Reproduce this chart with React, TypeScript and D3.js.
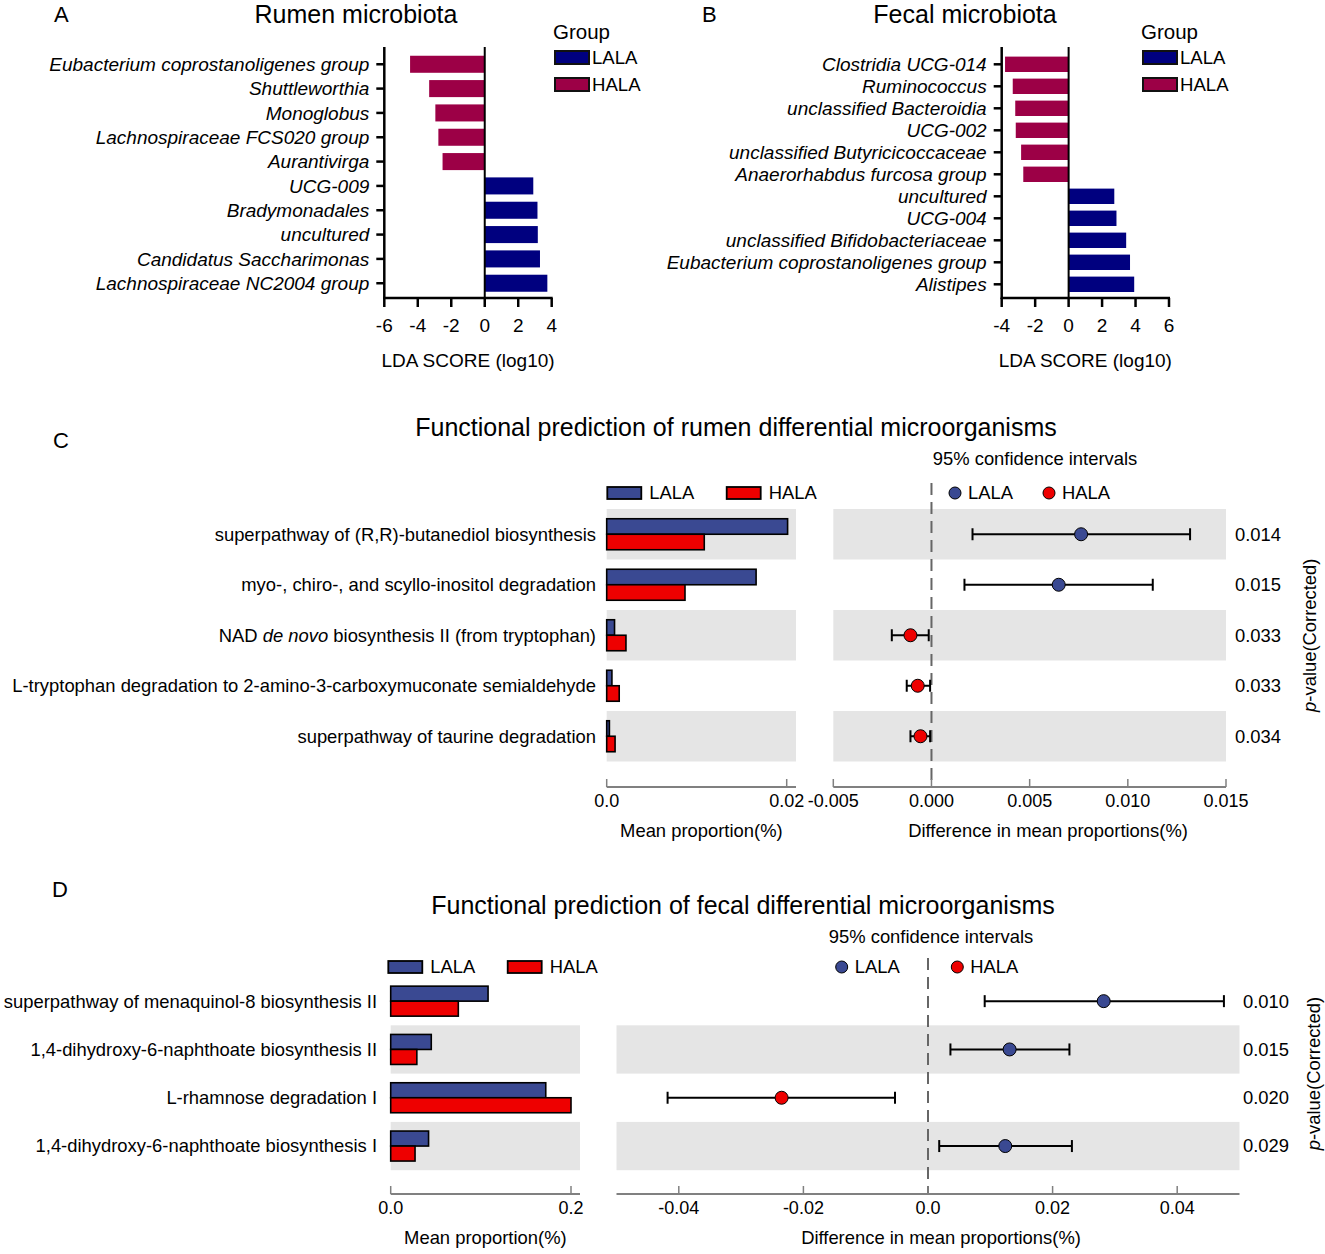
import React from "react";
import * as d3 from "d3";

// ---------- Data ----------
const rumenTaxa = [
  "Eubacterium coprostanoligenes group",
  "Shuttleworthia",
  "Monoglobus",
  "Lachnospiraceae FCS020 group",
  "Aurantivirga",
  "UCG-009",
  "Bradymonadales",
  "uncultured",
  "Candidatus Saccharimonas",
  "Lachnospiraceae NC2004 group",
];
const rumenLDA = [-4.46, -3.32, -2.95, -2.77, -2.52, 2.9, 3.15, 3.17, 3.3, 3.74];

const fecalTaxa = [
  "Clostridia UCG-014",
  "Ruminococcus",
  "unclassified Bacteroidia",
  "UCG-002",
  "unclassified Butyricicoccaceae",
  "Anaerorhabdus furcosa group",
  "uncultured",
  "UCG-004",
  "unclassified Bifidobacteriaceae",
  "Eubacterium coprostanoligenes group",
  "Alistipes",
];
const fecalLDA = [-3.8, -3.34, -3.19, -3.16, -2.84, -2.71, 2.73, 2.86, 3.44, 3.67, 3.92];

const ldaTicksA = [-6, -4, -2, 0, 2, 4];
const ldaTicksB = [-4, -2, 0, 2, 4, 6];

const rumenPathways = [
  "superpathway of (R,R)-butanediol biosynthesis",
  "myo-, chiro-, and scyllo-inositol degradation",
  "NAD de novo biosynthesis II (from tryptophan)",
  "L-tryptophan degradation to 2-amino-3-carboxymuconate semialdehyde",
  "superpathway of taurine degradation",
];
const rumenMeanLALA = [0.0201, 0.0166, 0.00087, 0.00058, 0.0003];
const rumenMeanHALA = [0.01084, 0.0087, 0.00214, 0.00139, 0.00093];
const rumenDiff = [0.00762, 0.00648, -0.00107, -0.0007, -0.00056];
const rumenCILow = [0.00209, 0.00168, -0.00202, -0.00126, -0.00107];
const rumenCIHigh = [0.01317, 0.01127, -0.00014, -0.00007, -0.00007];
const rumenP = ["0.014", "0.015", "0.033", "0.033", "0.034"];
const rumenMeanTicks = [0, 0.02];
const rumenMeanTickLabels = ["0.0", "0.02"];
const rumenDiffTicks = [-0.005, 0, 0.005, 0.01, 0.015];
const rumenDiffTickLabels = ["-0.005", "0.000", "0.005", "0.010", "0.015"];

const fecalPathways = [
  "superpathway of menaquinol-8 biosynthesis II",
  "1,4-dihydroxy-6-naphthoate biosynthesis II",
  "L-rhamnose degradation I",
  "1,4-dihydroxy-6-naphthoate biosynthesis I",
];
const fecalMeanLALA = [0.108, 0.045, 0.172, 0.042];
const fecalMeanHALA = [0.075, 0.029, 0.2, 0.027];
const fecalDiff = [0.0282, 0.0131, -0.0235, 0.0124];
const fecalCILow = [0.0091, 0.0036, -0.0418, 0.0018];
const fecalCIHigh = [0.0475, 0.0227, -0.0053, 0.0231];
const fecalP = ["0.010", "0.015", "0.020", "0.029"];
const fecalMeanTicks = [0, 0.2];
const fecalMeanTickLabels = ["0.0", "0.2"];
const fecalDiffTicks = [-0.04, -0.02, 0, 0.02, 0.04];
const fecalDiffTickLabels = ["-0.04", "-0.02", "0.0", "0.02", "0.04"];

const groups = ["LALA", "HALA"];

// ---------- Styles ----------
const FONT = "Arial, 'Liberation Sans', Helvetica, sans-serif";
const LDA_LALA = "#00007f";
const LDA_HALA = "#9c0046";
const EB_LALA = "#3a4992";
const EB_HALA = "#ee0000";
const BAND = "#e5e5e5";
const AXIS_GRAY = "#808080";
const FS = 18.4;

type LdaProps = {
  taxa: string[];
  values: number[];
  ticks: number[];
  xRange: [number, number];
  rowStart: number;
  rowEnd: number;
  axisTop: number;
  axisY: number;
  title: string;
  titleX: number;
  letter: string;
  letterX: number;
  legendX: number;
};

function LdaPanel(p: LdaProps) {
  const x = d3.scaleLinear().domain([p.ticks[0], p.ticks[p.ticks.length - 1]]).range(p.xRange);
  const y = d3.scaleBand<string>().domain(p.taxa).range([p.rowStart, p.rowEnd]).paddingInner(0.3).paddingOuter(0.15);
  const x0 = x(0);
  const left = p.xRange[0];
  return (
    <g fontFamily={FONT}>
      <text x={p.letterX} y={22} fontSize={22}>{p.letter}</text>
      <text x={p.titleX} y={23} fontSize={25} textAnchor="middle">{p.title}</text>
      {p.taxa.map((t, i) => {
        const v = p.values[i];
        const yy = y(t)!;
        return (
          <rect
            key={t}
            x={Math.min(x0, x(v))}
            y={yy}
            width={Math.abs(x(v) - x0)}
            height={y.bandwidth()}
            fill={v < 0 ? LDA_HALA : LDA_LALA}
          />
        );
      })}
      {/* axes */}
      <line x1={left} x2={left} y1={p.axisTop} y2={p.axisY + 1} stroke="#000" strokeWidth={2.5} />
      <line x1={left - 1} x2={p.xRange[1] + 1} y1={p.axisY} y2={p.axisY} stroke="#000" strokeWidth={2.5} />
      <line x1={x0} x2={x0} y1={p.axisTop} y2={p.axisY} stroke="#000" strokeWidth={2} />
      {p.taxa.map((t) => {
        const cy = y(t)! + y.bandwidth() / 2;
        return (
          <g key={"l" + t}>
            <line x1={left - 8} x2={left} y1={cy} y2={cy} stroke="#000" strokeWidth={2.5} />
            <text x={left - 15} y={cy} dy="0.35em" fontSize={19} fontStyle="italic" textAnchor="end">{t}</text>
          </g>
        );
      })}
      {p.ticks.map((t) => (
        <g key={"t" + t}>
          <line x1={x(t)} x2={x(t)} y1={p.axisY} y2={p.axisY + 9} stroke="#000" strokeWidth={2.5} />
          <text x={x(t)} y={p.axisY + 34} fontSize={19} textAnchor="middle">{t}</text>
        </g>
      ))}
      <text x={(p.xRange[0] + p.xRange[1]) / 2} y={p.axisY + 69} fontSize={19} textAnchor="middle">LDA SCORE (log10)</text>
      {/* legend */}
      <text x={p.legendX - 2} y={39} fontSize={20.5}>Group</text>
      {groups.map((g, i) => (
        <g key={g}>
          <rect x={p.legendX} y={51 + i * 27} width={34} height={13} fill={g === "LALA" ? LDA_LALA : LDA_HALA} stroke="#111" strokeWidth={2} />
          <text x={p.legendX + 37} y={57.5 + i * 27} dy="0.35em" fontSize={18.6}>{g}</text>
        </g>
      ))}
    </g>
  );
}

type EbProps = {
  pathways: string[];
  meanLALA: number[];
  meanHALA: number[];
  diff: number[];
  ciLow: number[];
  ciHigh: number[];
  pvals: string[];
  meanDomain: [number, number];
  meanRange: [number, number];
  meanBandEnd: number;
  meanTicks: number[];
  meanTickLabels: string[];
  diffDomain: [number, number];
  diffRange: [number, number];
  diffTicks: number[];
  diffTickLabels: string[];
  rowTop: number;
  rowStep: number;
  bandOdd: boolean;
  axisY: number;
  barH: number;
  labelX: number;
  pX: number;
  pLabelX: number;
  title: string;
  titleX: number;
  titleY: number;
  letter: string;
  letterX: number;
  letterY: number;
  legendY: number;
  barLegendX: [number, number];
  dotLegendX: [number, number];
  ciTitleX: number;
  ciTitleY: number;
  dashTop: number;
  diffTitleX: number;
};

function EbPanel(p: EbProps) {
  const n = p.pathways.length;
  const xm = d3.scaleLinear().domain(p.meanDomain).range(p.meanRange);
  const xd = d3.scaleLinear().domain(p.diffDomain).range(p.diffRange);
  const y = d3
    .scaleBand<string>()
    .domain(p.pathways)
    .range([p.rowTop, p.rowTop + p.rowStep * n]);
  const m0 = xm(0);
  const d0 = xd(0);
  return (
    <g fontFamily={FONT}>
      <text x={p.letterX} y={p.letterY} fontSize={22}>{p.letter}</text>
      <text x={p.titleX} y={p.titleY} fontSize={25} textAnchor="middle">{p.title}</text>
      {/* bands */}
      {p.pathways.map((t, i) =>
        (i % 2 === 0) === p.bandOdd ? (
          <g key={"b" + i}>
            <rect x={m0} y={y(t)!} width={p.meanBandEnd - m0} height={y.bandwidth()} fill={BAND} />
            <rect x={p.diffRange[0]} y={y(t)!} width={p.diffRange[1] - p.diffRange[0]} height={y.bandwidth()} fill={BAND} />
          </g>
        ) : null
      )}
      {/* dashed zero line */}
      <line x1={d0} x2={d0} y1={p.dashTop} y2={p.axisY} stroke="#666" strokeWidth={2} strokeDasharray="12,7" />
      {/* bars and labels */}
      {p.pathways.map((t, i) => {
        const cy = y(t)! + y.bandwidth() / 2;
        const label =
          t.indexOf("de novo") >= 0 ? (
            <>
              NAD <tspan fontStyle="italic">de novo</tspan> biosynthesis II (from tryptophan)
            </>
          ) : (
            t
          );
        return (
          <g key={"r" + i}>
            <text x={p.labelX} y={cy} dy="0.35em" fontSize={FS} textAnchor="end">{label}</text>
            <rect x={m0} y={cy - p.barH} width={xm(p.meanLALA[i]) - m0} height={p.barH} fill={EB_LALA} stroke="#000" strokeWidth={1.6} />
            <rect x={m0} y={cy} width={xm(p.meanHALA[i]) - m0} height={p.barH} fill={EB_HALA} stroke="#000" strokeWidth={1.6} />
            <line x1={xd(p.ciLow[i])} x2={xd(p.ciHigh[i])} y1={cy} y2={cy} stroke="#000" strokeWidth={2} />
            <line x1={xd(p.ciLow[i])} x2={xd(p.ciLow[i])} y1={cy - 6} y2={cy + 6} stroke="#000" strokeWidth={2} />
            <line x1={xd(p.ciHigh[i])} x2={xd(p.ciHigh[i])} y1={cy - 6} y2={cy + 6} stroke="#000" strokeWidth={2} />
            <circle cx={xd(p.diff[i])} cy={cy} r={6.5} fill={p.diff[i] >= 0 ? EB_LALA : EB_HALA} stroke="#000" strokeWidth={1} />
            <text x={p.pX} y={cy} dy="0.35em" fontSize={FS}>{p.pvals[i]}</text>
          </g>
        );
      })}
      {/* axes */}
      <line x1={m0} x2={p.meanBandEnd} y1={p.axisY} y2={p.axisY} stroke={AXIS_GRAY} strokeWidth={2} />
      {p.meanTicks.map((t, i) => (
        <g key={"mt" + i}>
          <line x1={xm(t)} x2={xm(t)} y1={p.axisY} y2={p.axisY - 8} stroke={AXIS_GRAY} strokeWidth={1.5} />
          <text x={xm(t)} y={p.axisY + 20} fontSize={18} textAnchor="middle">{p.meanTickLabels[i]}</text>
        </g>
      ))}
      <text x={(m0 + p.meanBandEnd) / 2} y={p.axisY + 50} fontSize={FS} textAnchor="middle">Mean proportion(%)</text>
      <line x1={p.diffRange[0]} x2={p.diffRange[1]} y1={p.axisY} y2={p.axisY} stroke={AXIS_GRAY} strokeWidth={2} />
      {p.diffTicks.map((t, i) => (
        <g key={"dt" + i}>
          <line x1={xd(t)} x2={xd(t)} y1={p.axisY} y2={p.axisY - 8} stroke={AXIS_GRAY} strokeWidth={1.5} />
          <text x={xd(t)} y={p.axisY + 20} fontSize={18} textAnchor="middle">{p.diffTickLabels[i]}</text>
        </g>
      ))}
      <text x={p.diffTitleX} y={p.axisY + 50} fontSize={FS} textAnchor="middle">Difference in mean proportions(%)</text>
      {/* p-value title */}
      <text
        transform={`translate(${p.pLabelX},${p.rowTop + (p.rowStep * n) / 2}) rotate(-90)`}
        textAnchor="middle"
        fontSize={FS}
      >
        <tspan fontStyle="italic">p</tspan>-value(Corrected)
      </text>
      {/* legends */}
      <text x={p.ciTitleX} y={p.ciTitleY} fontSize={FS} textAnchor="middle">95% confidence intervals</text>
      {groups.map((g, i) => (
        <g key={"lg" + g}>
          <rect x={p.barLegendX[i]} y={p.legendY - 6} width={34} height={12} fill={g === "LALA" ? EB_LALA : EB_HALA} stroke="#000" strokeWidth={1.8} />
          <text x={p.barLegendX[i] + 42} y={p.legendY} dy="0.35em" fontSize={FS}>{g}</text>
          <circle cx={p.dotLegendX[i]} cy={p.legendY} r={6} fill={g === "LALA" ? EB_LALA : EB_HALA} stroke="#000" strokeWidth={1} />
          <text x={p.dotLegendX[i] + 13} y={p.legendY} dy="0.35em" fontSize={FS}>{g}</text>
        </g>
      ))}
    </g>
  );
}

export default function App() {
  return (
    <svg
      width={1325}
      height={1254}
      viewBox="0 0 1325 1254"
      style={{ position: "absolute", left: 0, top: 0, background: "#fff" }}
    >
      <rect width={1325} height={1254} fill="#fff" />
      <LdaPanel
        taxa={rumenTaxa}
        values={rumenLDA}
        ticks={ldaTicksA}
        xRange={[384.3, 551.7]}
        rowStart={52.1}
        rowEnd={52.1 + 24.33 * 10}
        axisTop={47}
        axisY={298}
        title="Rumen microbiota"
        titleX={356}
        letter="A"
        letterX={54}
        legendX={555}
      />
      <LdaPanel
        taxa={fecalTaxa}
        values={fecalLDA}
        ticks={ldaTicksB}
        xRange={[1001.7, 1169]}
        rowStart={53.3}
        rowEnd={53.3 + 22 * 11}
        axisTop={47}
        axisY={298}
        title="Fecal microbiota"
        titleX={965}
        letter="B"
        letterX={702}
        legendX={1143}
      />
      <EbPanel
        pathways={rumenPathways}
        meanLALA={rumenMeanLALA}
        meanHALA={rumenMeanHALA}
        diff={rumenDiff}
        ciLow={rumenCILow}
        ciHigh={rumenCIHigh}
        pvals={rumenP}
        meanDomain={[0, 0.02]}
        meanRange={[606.7, 786.7]}
        meanBandEnd={796}
        meanTicks={rumenMeanTicks}
        meanTickLabels={rumenMeanTickLabels}
        diffDomain={[-0.005, 0.015]}
        diffRange={[833.3, 1226]}
        diffTicks={rumenDiffTicks}
        diffTickLabels={rumenDiffTickLabels}
        rowTop={509}
        rowStep={50.5}
        bandOdd={true}
        axisY={787}
        barH={15.5}
        labelX={596}
        pX={1235}
        pLabelX={1316}
        title="Functional prediction of rumen differential microorganisms"
        titleX={736}
        titleY={436}
        letter="C"
        letterX={53}
        letterY={448}
        legendY={493}
        barLegendX={[607.3, 726.7]}
        dotLegendX={[955, 1049]}
        ciTitleX={1035}
        ciTitleY={465}
        dashTop={483}
        diffTitleX={1048}
      />
      <EbPanel
        pathways={fecalPathways}
        meanLALA={fecalMeanLALA}
        meanHALA={fecalMeanHALA}
        diff={fecalDiff}
        ciLow={fecalCILow}
        ciHigh={fecalCIHigh}
        pvals={fecalP}
        meanDomain={[0, 0.2]}
        meanRange={[390.7, 571]}
        meanBandEnd={580}
        meanTicks={fecalMeanTicks}
        meanTickLabels={fecalMeanTickLabels}
        diffDomain={[-0.05, 0.05]}
        diffRange={[616.5, 1239.5]}
        diffTicks={fecalDiffTicks}
        diffTickLabels={fecalDiffTickLabels}
        rowTop={977}
        rowStep={48.3}
        bandOdd={false}
        axisY={1194}
        barH={15}
        labelX={377}
        pX={1243}
        pLabelX={1320}
        title="Functional prediction of fecal differential microorganisms"
        titleX={743}
        titleY={914}
        letter="D"
        letterX={52}
        letterY={897}
        legendY={967}
        barLegendX={[388.3, 507.7]}
        dotLegendX={[841.7, 957.3]}
        ciTitleX={931}
        ciTitleY={943}
        dashTop={958}
        diffTitleX={941}
      />
    </svg>
  );
}
